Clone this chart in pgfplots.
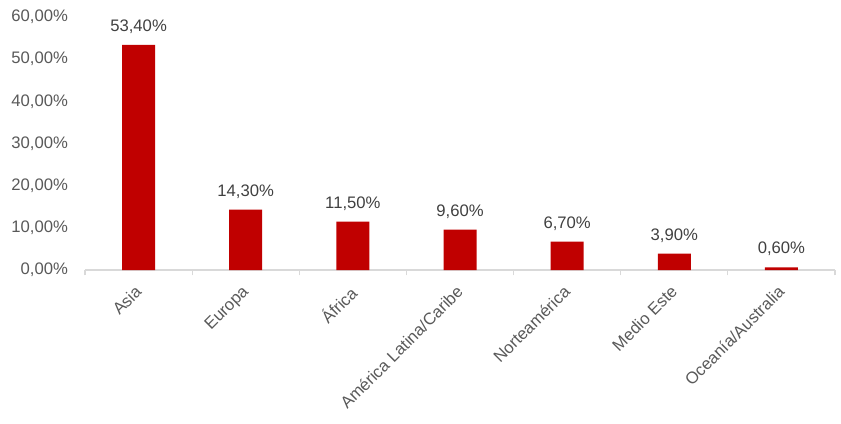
\documentclass[border=0pt]{standalone}
\usepackage{pgfplots}
\pgfplotsset{compat=1.18}
\usepackage{fontspec}
\setmainfont{Liberation Sans}
\definecolor{barred}{HTML}{C00000}
\definecolor{ticktext}{HTML}{595959}
\definecolor{labtext}{HTML}{404040}
\definecolor{basegray}{HTML}{D9D9D9}
\begin{document}
\begin{tikzpicture}
\begin{axis}[
  scale only axis,
  width=562.5pt, height=189.75pt,
  xmin=-0.5, xmax=6.5, ymin=0, ymax=60,
  axis x line=bottom, axis y line=left,
  x axis line style={draw=basegray,-,line width=0.8pt},
  y axis line style={draw=none},
  ytick={0,10,...,60},
  ytick style={draw=none},
  xtick={0,...,6},
  xticklabels={Asia,Europa,África,América Latina/Caribe,Norteamérica,Medio Este,Oceanía/Australia},
  major x tick style={draw=none},
  minor xtick={-0.5,0.5,...,6.5},
  minor x tick style={draw=basegray,line width=0.8pt},
  minor tick length=4pt,
  tick align=outside,
  /pgf/number format/assume math mode=true,
  yticklabel={\pgfmathprintnumber[fixed,fixed zerofill,precision=2,use comma]{\tick}\%},
  yticklabel style={font=\fontsize{12.5}{14}\selectfont, text=ticktext, anchor=east, xshift=-5pt},
  xticklabel style={font=\fontsize{12.5}{14}\selectfont, text=ticktext, xshift=-3.5pt, yshift=-3.5pt, rotate=45, anchor=north east, inner sep=2pt},
  ybar, bar width=24.75pt,
  nodes near coords={\pgfmathprintnumber[fixed,fixed zerofill,precision=2,use comma]{\pgfplotspointmeta}\%},
  nodes near coords style={font=\fontsize{12.5}{14}\selectfont, text=labtext, anchor=south, yshift=5pt},
  clip=false,
]
\addplot[fill=barred, draw=none] coordinates {(0,53.4) (1,14.3) (2,11.5) (3,9.6) (4,6.7) (5,3.9) (6,0.6)};
\end{axis}
\pgfresetboundingbox
\path ([xshift=-63.75pt,yshift=-114.75pt]current axis.south west) rectangle ([xshift=4.5pt,yshift=12.75pt]current axis.north east);
\end{tikzpicture}
\end{document}
